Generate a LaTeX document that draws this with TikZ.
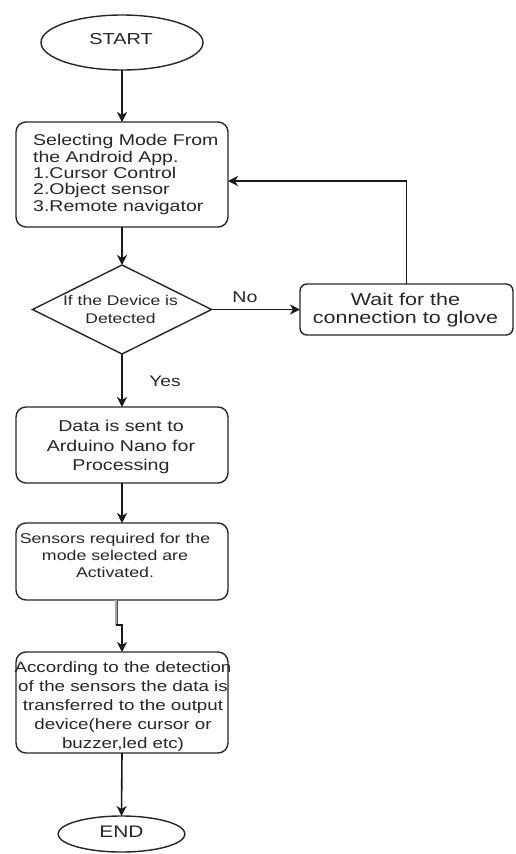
\documentclass[tikz,border=0pt]{standalone}
\usepackage{fontspec}
\setmainfont{Liberation Sans}[FakeStretch=1.25]
\usetikzlibrary{shapes.geometric,arrows.meta,calc}
\newcommand{\fs}[2]{\fontsize{#1pt}{#2pt}\selectfont}
\tikzset{
  shp/.style={draw=black!85, line width=1.4pt, inner sep=0pt, outer sep=0pt},
  rbox/.style={shp, rectangle, rounded corners=10pt, minimum width=212pt},
  oval/.style={shp, ellipse},
  txt/.style={inner sep=0pt, text=black!85, align=center},
  arr/.style={draw=black!90, line width=1.6pt, -{Stealth[length=10pt,width=10pt,inset=3pt]}},
}
\begin{document}
\begin{tikzpicture}[x=1pt,y=-1pt]
\useasboundingbox (0,0) rectangle (516,854);
% shapes
\node[oval, minimum width=162pt, minimum height=55pt] (start) at (122,42.5) {};
\node[rbox, minimum height=105pt] (box1) at (122,174.5) {};
\node[shp, diamond, minimum width=179pt, minimum height=89pt] (dia) at (122,309.5) {};
\node[rbox, rounded corners=7pt, minimum width=213pt, minimum height=51pt] (wait) at (406.5,309.5) {};
\node[rbox, minimum height=76pt] (box2) at (122,445) {};
\node[rbox, minimum height=77pt] (box3) at (122,561.5) {};
\node[rbox, minimum height=101pt] (box4) at (122,702.5) {};
\node[oval, minimum width=127pt, minimum height=36pt] (end) at (121.5,834) {};
% texts
\node[txt, font=\fs{15.9}{19}] (tstart) at (121,39) {START};
\node[txt, align=left, anchor=west, font=\fs{15.6}{16.3}] (t1) at (33,174.5) {Selecting Mode From\\the Android App.\\1.Cursor Control\\2.Object sensor\\3.Remote navigator};
\node[txt, font=\fs{14}{18}] (tdia) at (120.5,309) {If the Device is\\Detected};
\node[txt, font=\fs{17.2}{18}] (twait) at (405.5,310) {Wait for the\\connection to glove};
\node[txt, font=\fs{15.7}{19.5}] (t2) at (121,447) {Data is sent to\\Arduino Nano for\\Processing};
\node[txt, font=\fs{14.2}{17}] (t3) at (115,555) {Sensors required for the\\mode selected are\\Activated.};
\node[txt, font=\fs{15}{19}] (t4) at (123,706.5) {According to the detection\\of the sensors the data is\\transferred to the output\\device(here cursor or\\buzzer,led etc)};
\node[txt, font=\fs{16.7}{19}] (tend) at (121.5,832) {END};
\node[txt, font=\fs{15.7}{18}] (lno) at (245,297) {No};
\node[txt, font=\fs{15.3}{18}] (lyes) at (165,381) {Yes};
% connectors
\draw[arr] (start.south) -- (box1.north);
\draw[arr] (box1.south) -- (dia.north);
\draw[arr] (dia.east) -- (wait.west);
\draw[arr] (wait.north) |- ($(box1.east)+(0,6.5)$);
\draw[arr] (dia.south) -- (box2.north);
\draw[arr] (box2.south) -- (box3.north);
\coordinate (j1) at ($(box3.south)+(-6,0)$);
\coordinate (j2) at ($(box3.south)+(-6,25)$);
\coordinate (j3) at ($(box3.south)+(0,25)$);
\draw[line width=3pt, black!70] (j1) -- (j2);
\draw[line width=1.4pt, black!35] (j1) -- (j2);
\draw[arr] (j2) -- (j3) -- (box4.north);
\draw[arr] (box4.south) -- (end.north);
\end{tikzpicture}
\end{document}
